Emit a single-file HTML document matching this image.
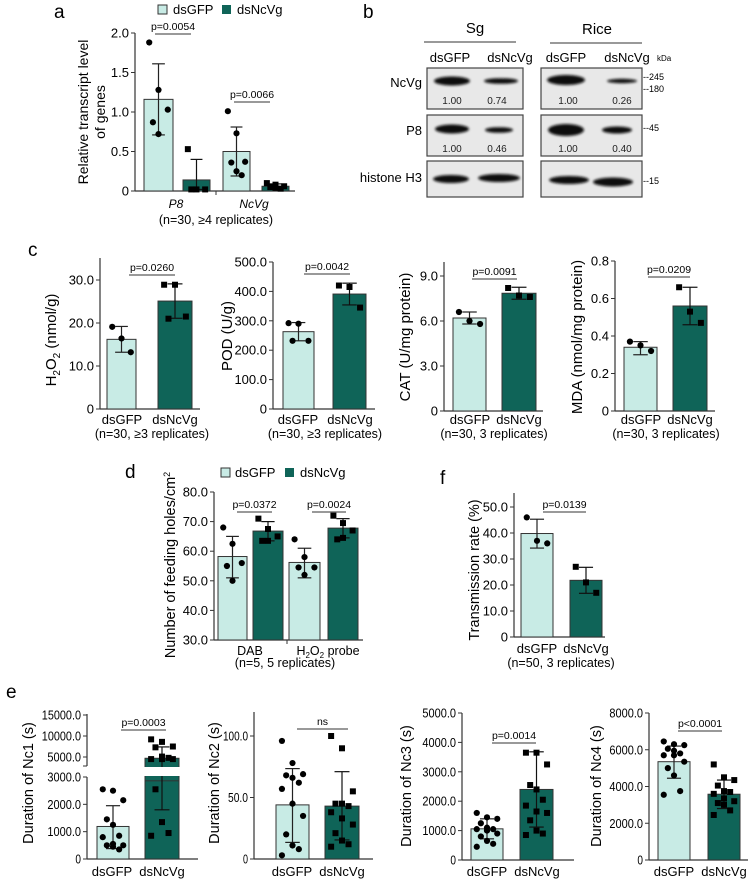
<!DOCTYPE html>
<html><head><meta charset="utf-8"><style>
body{margin:0;background:#fff;}
svg{display:block;font-family:"Liberation Sans",Arial,sans-serif;}
</style></head><body>
<svg id="fig" width="750" height="882" viewBox="0 0 750 882" xmlns="http://www.w3.org/2000/svg">
<defs><filter id="blur" x="-20%" y="-50%" width="140%" height="200%"><feGaussianBlur stdDeviation="1.2"/></filter></defs>
<text x="54" y="18" font-size="19">a</text>
<text x="363" y="18" font-size="19">b</text>
<text x="28" y="256" font-size="19">c</text>
<text x="125" y="478" font-size="19">d</text>
<text x="440" y="484" font-size="19">f</text>
<text x="6" y="698" font-size="19">e</text>

<g>
<rect x="158" y="5" width="9" height="9" fill="#c8ebe5" stroke="#333"/>
<text x="173" y="14" font-size="13">dsGFP</text>
<rect x="222" y="5" width="9" height="9" fill="#0f6458"/>
<text x="237" y="14" font-size="13">dsNcVg</text>
</g>
<text transform="translate(88,112) rotate(-90)" text-anchor="middle" font-size="14">Relative transcript level</text>
<text transform="translate(105,112) rotate(-90)" text-anchor="middle" font-size="14">of genes</text>
<text x="176" y="208" text-anchor="middle" font-size="12" font-style="italic">P8</text>
<text x="254" y="208" text-anchor="middle" font-size="12" font-style="italic">NcVg</text>
<text x="216" y="224" text-anchor="middle" font-size="12.5">(n=30, ≥4 replicates)</text>

<g font-size="13">
<text x="475" y="33" text-anchor="middle" font-size="15">Sg</text>
<line x1="424" y1="42" x2="516" y2="42" stroke="#333"/>
<text x="597" y="34" text-anchor="middle" font-size="15">Rice</text>
<line x1="550" y1="43" x2="642" y2="43" stroke="#333"/>
<text x="450" y="62" text-anchor="middle">dsGFP</text>
<text x="510" y="62" text-anchor="middle">dsNcVg</text>
<text x="566" y="62" text-anchor="middle">dsGFP</text>
<text x="627" y="62" text-anchor="middle">dsNcVg</text>
<text x="657" y="61" font-size="8">kDa</text>
<text x="422" y="87" text-anchor="end">NcVg</text>
<text x="422" y="135" text-anchor="end">P8</text>
<text x="422" y="182" text-anchor="end">histone H3</text>
<g fill="#e8e8e8" stroke="#444" stroke-width="1.2">
<rect x="427" y="68" width="96" height="41"/>
<rect x="427" y="115" width="96" height="41"/>
<rect x="427" y="161" width="96" height="36"/>
<rect x="541" y="68" width="101" height="41"/>
<rect x="541" y="115" width="101" height="41"/>
<rect x="541" y="161" width="101" height="36"/>
</g>
<g fill="#111" filter="url(#blur)">
<ellipse cx="452" cy="81" rx="18" ry="4.5"/>
<ellipse cx="501" cy="81" rx="17" ry="2.8"/>
<ellipse cx="566" cy="80" rx="19" ry="5"/>
<ellipse cx="622" cy="81" rx="15" ry="2.2"/>
<ellipse cx="452" cy="129" rx="17" ry="4.5"/>
<ellipse cx="499" cy="130" rx="14" ry="2.8"/>
<ellipse cx="566" cy="130" rx="18" ry="6"/>
<ellipse cx="617" cy="130" rx="15" ry="3.5"/>
<ellipse cx="451" cy="179" rx="18" ry="4"/>
<ellipse cx="499" cy="178" rx="21" ry="4"/>
<ellipse cx="569" cy="180" rx="20" ry="4"/>
<ellipse cx="613" cy="182" rx="20" ry="4.5"/>
</g>
<g font-size="10" text-anchor="middle" fill="#222">
<text x="452" y="104">1.00</text>
<text x="497" y="104">0.74</text>
<text x="568" y="104">1.00</text>
<text x="622" y="104">0.26</text>
<text x="452" y="152">1.00</text>
<text x="497" y="152">0.46</text>
<text x="568" y="152">1.00</text>
<text x="622" y="152">0.40</text>
</g>
<g font-size="9">
<text x="643" y="80">--245</text>
<text x="643" y="92">--180</text>
<text x="643" y="131">--45</text>
<text x="643" y="184">--15</text>
</g>
</g>

<text transform="translate(56,340) rotate(-90)" text-anchor="middle" font-size="15">H<tspan font-size="10" dy="4">2</tspan><tspan dy="-4">O</tspan><tspan font-size="10" dy="4">2</tspan><tspan dy="-4"> (nmol/g)</tspan></text>
<text transform="translate(232,336) rotate(-90)" text-anchor="middle" font-size="15">POD (U/g)</text>
<text transform="translate(410,337) rotate(-90)" text-anchor="middle" font-size="15">CAT (U/mg protein)</text>
<text transform="translate(582,337) rotate(-90)" text-anchor="middle" font-size="15">MDA (nmol/mg protein)</text>
<g font-size="12.5" text-anchor="middle">
<text x="152" y="438">(n=30, ≥3 replicates)</text>
<text x="325" y="438">(n=30, ≥3 replicates)</text>
<text x="494" y="438">(n=30, 3 replicates)</text>
<text x="666" y="438">(n=30, 3 replicates)</text>
</g>

<g>
<rect x="221" y="468" width="9" height="9" fill="#c8ebe5" stroke="#333"/>
<text x="235" y="477" font-size="13">dsGFP</text>
<rect x="285" y="468" width="9" height="9" fill="#0f6458"/>
<text x="300" y="477" font-size="13">dsNcVg</text>
</g>
<text transform="translate(175,565) rotate(-90)" text-anchor="middle" font-size="14.5">Number of feeding holes/cm<tspan font-size="9" dy="-5">2</tspan></text>
<text x="250" y="655" text-anchor="middle" font-size="12.5">DAB</text>
<text x="328" y="655" text-anchor="middle" font-size="12.5">H<tspan font-size="8" dy="3">2</tspan><tspan dy="-3">O</tspan><tspan font-size="8" dy="3">2</tspan><tspan dy="-3"> probe</tspan></text>
<text x="285" y="667" text-anchor="middle" font-size="12.5">(n=5, 5 replicates)</text>

<text transform="translate(479,570) rotate(-90)" text-anchor="middle" font-size="14.5">Transmission rate (%)</text>
<text x="561" y="667" text-anchor="middle" font-size="12.5">(n=50, 3 replicates)</text>

<text transform="translate(33,783) rotate(-90)" text-anchor="middle" font-size="14.5">Duration of Nc1 (s)</text>
<text transform="translate(219,783) rotate(-90)" text-anchor="middle" font-size="14.5">Duration of Nc2 (s)</text>
<text transform="translate(411,786) rotate(-90)" text-anchor="middle" font-size="14.5">Duration of Nc3 (s)</text>
<text transform="translate(601,786) rotate(-90)" text-anchor="middle" font-size="14.5">Duration of Nc4 (s)</text>
</svg>
<script>
// ---------- DATA ----------
const aCats = ["P8","P8","NcVg","NcVg"];
const aMeans = [1.16, 0.14, 0.50, 0.06];
const aHi = [1.61, 0.40, 0.81, 0.09];
const aLo = [0.71, 0.02, 0.19, 0.03];
const aPts = [[1.88,1.28,1.03,0.87,0.72],[0.53,0.02,0.02,0.02],[1.01,0.73,0.37,0.36,0.25,0.20],[0.10,0.08,0.06,0.05,0.04,0.03]];
const aTicks = [0,0.5,1.0,1.5,2.0];
const aTickLabels = ["0","0.5","1.0","1.5","2.0"];
const aP = ["p=0.0054","p=0.0066"];
const h2Means = [16.2, 25.1];
const h2Hi = [19.2, 29.1];
const h2Lo = [13.2, 21.1];
const h2Pts = [[19.1,16.4,13.2],[28.9,28.9,21.5,21.0]];
const h2Ticks = [0,10,20,30];
const h2TickLabels = ["0","10.0","20.0","30.0"];
const podMeans = [263, 391];
const podHi = [294, 428];
const podLo = [232, 354];
const podPts = [[292,290,232,232],[420,415,345]];
const podTicks = [0,100,200,300,400,500];
const podTickLabels = ["0","100.0","200.0","300.0","400.0","500.0"];
const catMeans = [6.2, 7.85];
const catHi = [6.6, 8.25];
const catLo = [5.8, 7.45];
const catPts = [[6.6,6.0,5.8],[8.2,7.7,7.6]];
const catTicks = [0,3,6,9];
const catTickLabels = ["0","3.0","6.0","9.0"];
const mdaMeans = [0.34, 0.56];
const mdaHi = [0.37, 0.66];
const mdaLo = [0.30, 0.46];
const mdaPts = [[0.37,0.35,0.32],[0.66,0.53,0.47]];
const mdaTicks = [0,0.2,0.4,0.6,0.8];
const mdaTickLabels = ["0","0.2","0.4","0.6","0.8"];
const cP = ["p=0.0260","p=0.0042","p=0.0091","p=0.0209"];
const groups = ["dsGFP","dsNcVg"];
const dMeans = [58.2, 66.8, 56.2, 67.8];
const dHi = [65, 70, 61, 71];
const dLo = [51, 63.5, 51, 64.5];
const dPts = [[68,62.5,56,55,50],[71,67.5,65,63.5,63.5],[64,58,54.5,54.5,52],[72,69.5,67,64,64.5]];
const dTicks = [30,40,50,60,70,80];
const dTickLabels = ["30.0","40.0","50.0","60.0","70.0","80.0"];
const dP = ["p=0.0372","p=0.0024"];
const fMeans = [39.8, 21.8];
const fHi = [45.3, 26.8];
const fLo = [34.2, 16.8];
const fPts = [[46,37,36],[27,21,17]];
const fTicks = [0,10,20,30,40,50];
const fTickLabels = ["0","10.0","20.0","30.0","40.0","50.0"];
const fP = ["p=0.0139"];
const nc1Means = [1190, 4700];
const nc1Hi = [1950, 7400];
const nc1Lo = [380, 1800];
const nc1Pts = [[2550,2500,2150,1450,1250,850,800,550,500,500,450,350],[9200,8600,7500,7300,5100,4800,4500,4500,4500,2550,1350,950,850]];
const nc1Ticks = [0,1000,2000,3000,5000,10000,15000];
const nc1TickLabels = ["0","1000.0","2000.0","3000.0","5000.0","10000.0","15000.0"];
const nc2Means = [44, 43];
const nc2Hi = [73.5, 71];
const nc2Lo = [13.5, 15.5];
const nc2Pts = [[96,78,69,68,66,62,57,45,35,20,11,8,3],[100,90,55,45,45,43,38,33,28,21,15,12,10]];
const nc2Ticks = [0,50,100];
const nc2TickLabels = ["0","50.0","100.0"];
const nc3Means = [1060, 2400];
const nc3Hi = [1400, 3680];
const nc3Lo = [720, 1120];
const nc3Pts = [[1600,1450,1400,1250,1100,1050,1050,1000,900,800,650,550,450],[3650,3650,3250,2550,2400,2050,1850,1650,1600,1350,1000,900,850]];
const nc3Ticks = [0,1000,2000,3000,4000,5000];
const nc3TickLabels = ["0","1000.0","2000.0","3000.0","4000.0","5000.0"];
const nc4Means = [5350, 3580];
const nc4Hi = [6200, 4350];
const nc4Lo = [4450, 2800];
const nc4Pts = [[6450,6300,6250,6050,5950,5800,5700,5700,5350,5000,4600,3750,3550],[5200,4500,4350,4050,3750,3700,3600,3350,3200,3100,3000,2700,2450]];
const nc4Ticks = [0,2000,4000,6000,8000];
const nc4TickLabels = ["0","2000.0","4000.0","6000.0","8000.0"];
const eP = ["p=0.0003","ns","p=0.0014","p<0.0001"];

// ---------- DRAWING ----------
const NS = "http://www.w3.org/2000/svg";
const svg = document.getElementById('fig');
const LIGHT = "#c8ebe5", DARK = "#0f6458";
function mk(tag, attrs, name){
  const e = document.createElementNS(NS, tag);
  for (const k in attrs) e.setAttribute(k, attrs[k]);
  
  
  svg.appendChild(e);
  return e;
}
function linY(y0px, ytopPx, vmin, vmax){ return v => y0px - (v - vmin) * (y0px - ytopPx) / (vmax - vmin); }

function chart(c){
  const y = c.y;
  if (!c.noAxis) mk('line',{x1:c.ax,y1:c.axTop,x2:c.ax,y2:c.axBot,stroke:"#333","stroke-width":1.2},'y-axis');
  mk('line',{x1:c.ax,y1:c.axBot,x2:c.axEnd,y2:c.axBot,stroke:"#333","stroke-width":1.2},'x-axis');
  c.ticks.forEach((t,i)=>{
    const ty = y(t);
    mk('line',{x1:c.ax-4,y1:ty,x2:c.ax,y2:ty,stroke:"#333"},'y-tick');
    const attrs = {x:c.ax-6,y:ty+4.5,"text-anchor":"end","font-size":c.tfs||13};
    if (c.cw) { attrs.textLength = c.tickLabels[i].length*c.cw; attrs.lengthAdjust = "spacingAndGlyphs"; }
    const tx = mk('text',attrs,'y-tick-label');
    tx.textContent = c.tickLabels[i];
  });
  c.means.forEach((m,i)=>{
    const [x0,x1] = c.bx[i];
    const dark = (i%2===1);
    const base = c.base!==undefined ? c.base : 0;
    if (c.barSegs && dark) {
      c.barSegs.forEach(s=>{
        mk('rect',{x:x0,y:y(Math.min(m,s[1])),width:x1-x0,height:y(s[0])-y(Math.min(m,s[1])),fill:DARK,stroke:"#333","stroke-width":1},'bar');
      });
    } else {
      mk('rect',{x:x0,y:y(m),width:x1-x0,height:y(base)-y(m),fill:dark?DARK:LIGHT,stroke:"#333","stroke-width":1},'bar');
    }
    const cx=(x0+x1)/2, cw=(x1-x0)*0.22;
    const col = dark ? "#111" : "#222";
    mk('line',{x1:cx,y1:y(c.hi[i]),x2:cx,y2:y(c.lo[i]),stroke:col,"stroke-width":1.2},'error-bar');
    mk('line',{x1:cx-cw,y1:y(c.hi[i]),x2:cx+cw,y2:y(c.hi[i]),stroke:col,"stroke-width":1.2},'error-cap-high');
    mk('line',{x1:cx-cw,y1:y(c.lo[i]),x2:cx+cw,y2:y(c.lo[i]),stroke:col,"stroke-width":1.2},'error-cap-low');
    const pts = c.pts[i];
    const jw = (x1-x0)*0.32;
    pts.forEach((p,j)=>{
      const off = ((j%3)-1)*jw*(j%2?0.6:1);
      const px = cx + off, py = y(p);
      if (dark) mk('rect',{x:px-3,y:py-3,width:6,height:6,fill:"#000"},'point');
      else mk('circle',{cx:px,cy:py,r:3.1,fill:"#000"},'point');
    });
  });
  (c.pv||[]).forEach((p,i)=>{
    const L = c.pline[i];
    mk('line',{x1:L[0],y1:L[2],x2:L[1],y2:L[2],stroke:"#333"},'significance-line');
    const t = mk('text',{x:(L[0]+L[1])/2,y:L[2]-4,"text-anchor":"middle","font-size":10.5},'p-value-label');
    t.textContent = p;
  });
  (c.xl||[]).forEach((l,i)=>{
    const t = mk('text',{x:c.xlx[i],y:c.xly,"text-anchor":"middle","font-size":c.xfs||13},'x-axis-label');
    t.textContent = l;
  });
  if (c.midTick) mk('line',{x1:c.midTick,y1:c.axBot,x2:c.midTick,y2:c.axBot+4,stroke:"#333"},'x-tick');
}

chart({y:linY(191,33,0,2), ax:135, axTop:33, axBot:191, axEnd:295, ticks:aTicks, tickLabels:aTickLabels,
  means:aMeans, hi:aHi, lo:aLo, pts:aPts, bx:[[144,173],[183,210],[223,250],[262,289]],
  pv:aP, pline:[[155,191,34],[234,270,102]], midTick:216});

chart({y:linY(409,280,0,30), ax:100, axTop:258, axBot:409, axEnd:200, ticks:h2Ticks, tickLabels:h2TickLabels,
  means:h2Means, hi:h2Hi, lo:h2Lo, pts:h2Pts, bx:[[107,136],[158,192]],
  pv:[cP[0]], pline:[[129,175,275]], xl:groups, xlx:[122,175], xly:424});
chart({y:linY(409,262,0,500), ax:273, axTop:262, axBot:409, axEnd:375, ticks:podTicks, tickLabels:podTickLabels,
  means:podMeans, hi:podHi, lo:podLo, pts:podPts, bx:[[283,314],[333,366]],
  pv:[cP[1]], pline:[[304,350,274]], xl:groups, xlx:[298,350], xly:424});
chart({y:linY(411,276,0,9), ax:444, axTop:262, axBot:411, axEnd:543, ticks:catTicks, tickLabels:catTickLabels,
  means:catMeans, hi:catHi, lo:catLo, pts:catPts, bx:[[453,486],[502,536]],
  pv:[cP[2]], pline:[[472,517,279]], xl:groups, xlx:[470,519], xly:424});
chart({y:linY(411,261,0,0.8), ax:615, axTop:261, axBot:411, axEnd:715, ticks:mdaTicks, tickLabels:mdaTickLabels,
  means:mdaMeans, hi:mdaHi, lo:mdaLo, pts:mdaPts, bx:[[624,657],[673,707]],
  pv:[cP[3]], pline:[[648,690,277]], xl:groups, xlx:[641,690], xly:424});

chart({y:linY(640,492,30,80), base:30, ax:214, axTop:492, axBot:640, axEnd:363, ticks:dTicks, tickLabels:dTickLabels,
  means:dMeans, hi:dHi, lo:dLo, pts:dPts, bx:[[218,247],[253,283],[289,320],[328,358]],
  pv:dP, pline:[[237,272,512],[312,346,512]], midTick:287});

chart({y:linY(637,507,0,50), ax:514, axTop:493, axBot:637, axEnd:605, ticks:fTicks, tickLabels:fTickLabels,
  means:fMeans, hi:fHi, lo:fLo, pts:fPts, bx:[[521,553],[570,602]],
  pv:fP, pline:[[543,586,512]], xl:groups, xlx:[537,586], xly:653});

const nc1Y = v => v <= 3000 ? 859 - v*82/3000 : 757 - (v-5000)*21/5000;
chart({y:nc1Y, ax:87, axTop:714, axBot:859, axEnd:198, noAxis:true, ticks:nc1Ticks, tickLabels:nc1TickLabels, tfs:12.5, cw:5.6,
  means:nc1Means, hi:nc1Hi, lo:nc1Lo, pts:nc1Pts, bx:[[97,129],[145,179]], barSegs:[[0,3000],[2860,1e9]],
  pv:[eP[0]], pline:[[121,166,730]], xl:groups, xlx:[112,162], xly:876});
mk('line',{x1:87,y1:777,x2:87,y2:859,stroke:"#333","stroke-width":1.2},'y-axis-lower');
mk('line',{x1:87,y1:714,x2:87,y2:766,stroke:"#333","stroke-width":1.2},'y-axis-upper');
mk('line',{x1:83,y1:766,x2:87,y2:766,stroke:"#333"},'axis-break');
mk('rect',{x:140,y:767,width:44,height:9,fill:"#fff"},'axis-break-gap');
chart({y:linY(859,736,0,100), ax:254, axTop:712, axBot:859, axEnd:373, ticks:nc2Ticks, tickLabels:nc2TickLabels, tfs:12.5, cw:5.0,
  means:nc2Means, hi:nc2Hi, lo:nc2Lo, pts:nc2Pts, bx:[[276,309],[325,359]],
  pv:[eP[1]], pline:[[297,348,729]], xl:groups, xlx:[292,342], xly:876});
chart({y:linY(860,713,0,5000), ax:462, axTop:713, axBot:860, axEnd:574, ticks:nc3Ticks, tickLabels:nc3TickLabels, tfs:12.5, cw:5.6,
  means:nc3Means, hi:nc3Hi, lo:nc3Lo, pts:nc3Pts, bx:[[471,503],[520,553]],
  pv:[eP[2]], pline:[[492,536,743]], xl:groups, xlx:[487,537], xly:876});
chart({y:linY(860,713,0,8000), ax:649, axTop:713, axBot:860, axEnd:748, ticks:nc4Ticks, tickLabels:nc4TickLabels, tfs:12.5, cw:5.6,
  means:nc4Means, hi:nc4Hi, lo:nc4Lo, pts:nc4Pts, bx:[[658,690],[708,740]],
  pv:[eP[3]], pline:[[678,722,731]], xl:groups, xlx:[674,724], xly:876});
</script>
</body></html>
